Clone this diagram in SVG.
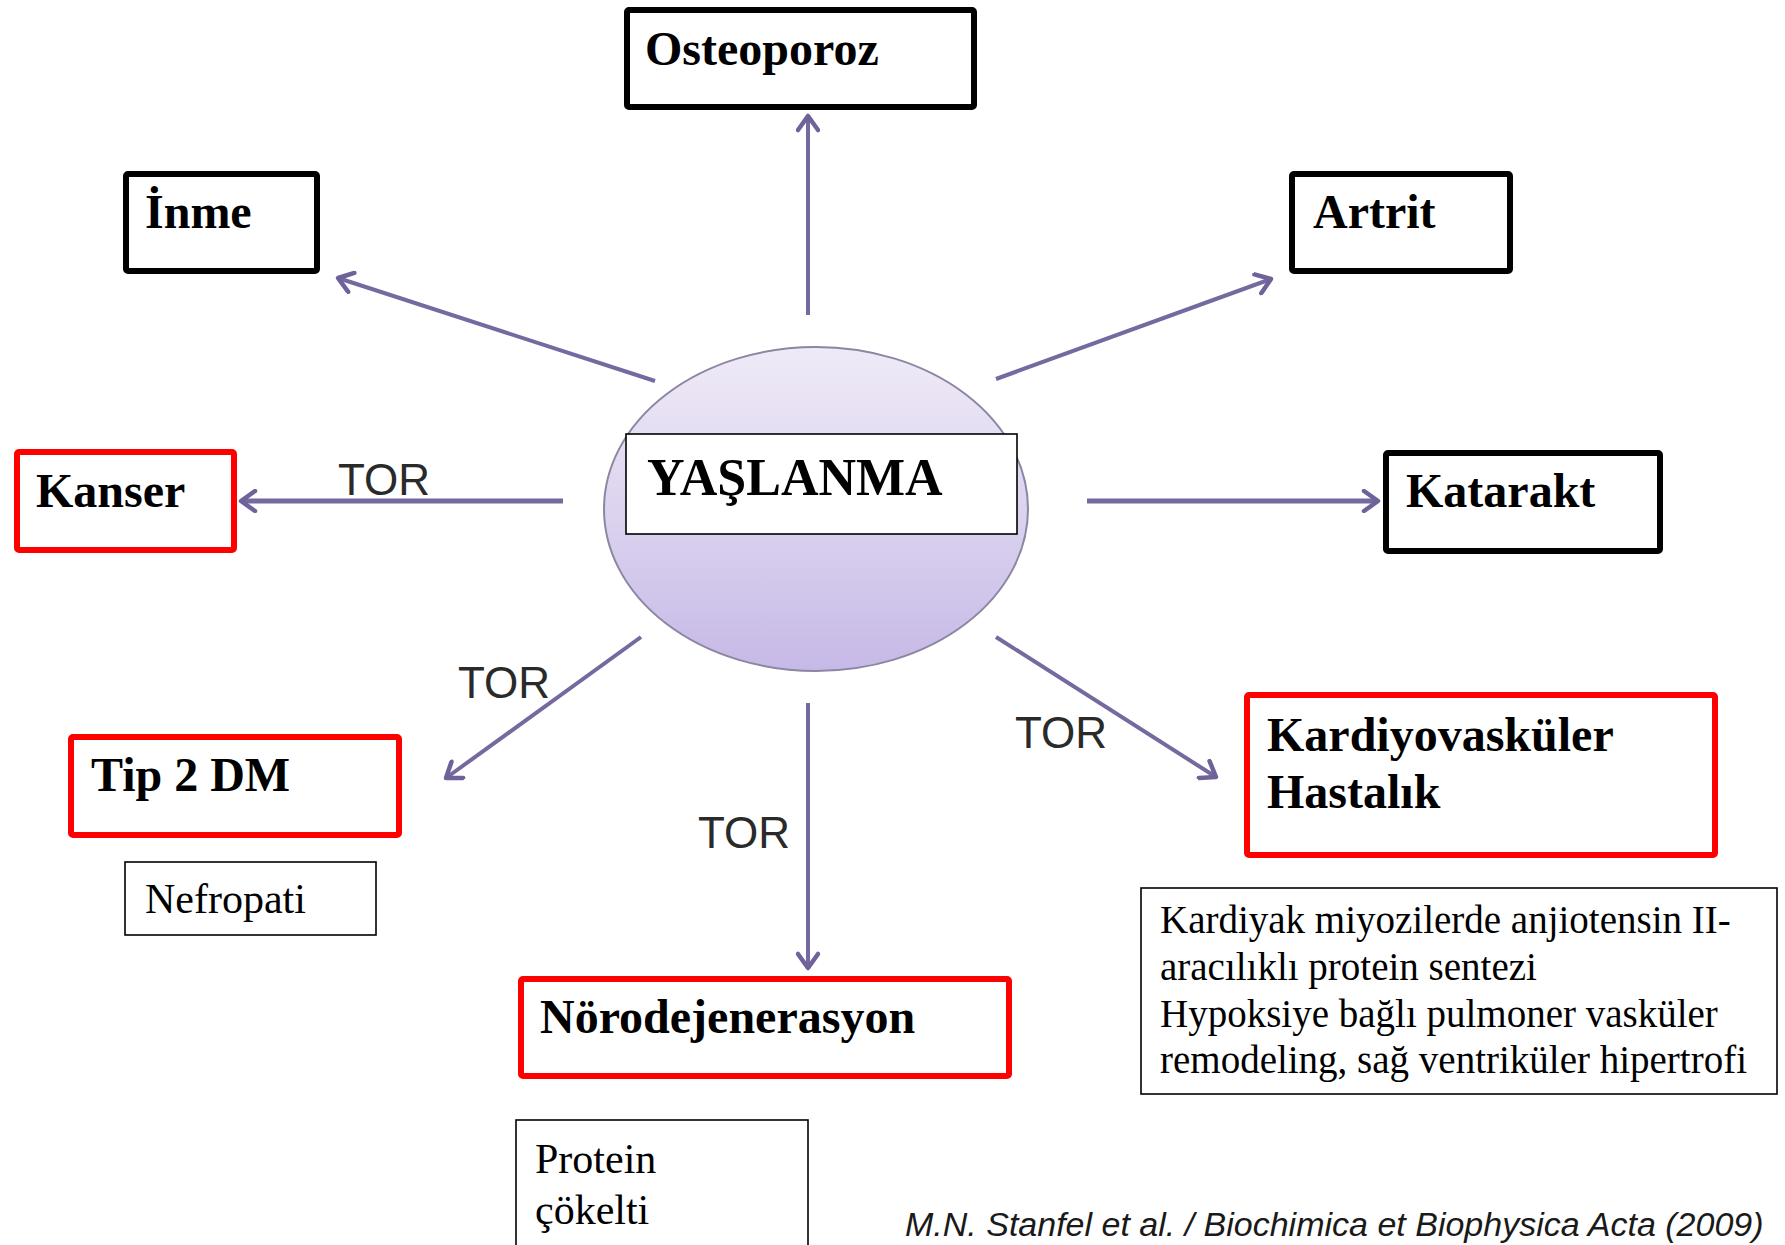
<svg xmlns="http://www.w3.org/2000/svg" width="1785" height="1245" viewBox="0 0 1785 1245">
  <style>
    .box-black { fill: #ffffff; stroke: #000000; stroke-width: 6; }
    .box-red { fill: #ffffff; stroke: #ff0000; stroke-width: 6; }
    .box-thin { fill: #ffffff; stroke: #000000; stroke-width: 1.6; }
    .title { font-family: "Liberation Serif", "Times New Roman", serif; font-weight: bold; font-size: 48px; fill: #000000; }
    .note { font-family: "Liberation Serif", "Times New Roman", serif; font-size: 39px; fill: #000000; }
    .tor { font-family: "Liberation Sans", Arial, sans-serif; font-size: 44px; fill: #2a2a2a; }
    .link { fill: none; stroke: #75699f; stroke-width: 4; marker-end: url(#head); }
    .cite { font-family: "Liberation Sans", Arial, sans-serif; font-style: italic; font-size: 34px; fill: #1a1a1a; }
  </style>
  <defs>
    <linearGradient id="orb" x1="0" y1="0" x2="0" y2="1">
      <stop offset="0" stop-color="#efeaf7"/>
      <stop offset="0.5" stop-color="#dcd4ef"/>
      <stop offset="1" stop-color="#c6b9e6"/>
    </linearGradient>
    <marker id="head" viewBox="-18 -12 22 24" markerWidth="22" markerHeight="24" refX="0" refY="0" orient="auto" markerUnits="userSpaceOnUse">
      <path d="M -14 -10 L 0 0 L -14 10" fill="none" stroke="#6e6299" stroke-width="4.5" stroke-linejoin="round" stroke-linecap="round"/>
    </marker>
  </defs>

  <rect width="1785" height="1245" fill="#ffffff"/>

  <!-- central aging node -->
  <g id="yaslanma">
    <ellipse cx="816" cy="509" rx="212" ry="162" fill="url(#orb)" stroke="#8c86a2" stroke-width="2"/>
    <rect x="626" y="434" width="391" height="100" class="box-thin"/>
    <text x="647" y="495" class="title" style="font-size:52px">YAŞLANMA</text>
  </g>

  <!-- connectors -->
  <g id="connectors">
    <line x1="808" y1="315" x2="808" y2="116" class="link"/>
    <line x1="655" y1="381" x2="338" y2="278" class="link"/>
    <line x1="996" y1="379" x2="1271" y2="279" class="link"/>
    <line x1="563" y1="501" x2="241" y2="501" class="link" style="stroke-width:5"/>
    <line x1="1087" y1="501" x2="1378" y2="501" class="link" style="stroke-width:5"/>
    <line x1="641" y1="637" x2="446" y2="778" class="link"/>
    <line x1="808" y1="703" x2="808" y2="968" class="link"/>
    <line x1="996" y1="637" x2="1216" y2="777" class="link"/>
    <text x="338" y="495" class="tor">TOR</text>
    <text x="458" y="698" class="tor">TOR</text>
    <text x="698" y="848" class="tor">TOR</text>
    <text x="1015" y="748" class="tor">TOR</text>
  </g>

  <g id="osteoporoz">
    <rect x="627" y="10" width="347" height="97" rx="2" class="box-black"/>
    <text x="645" y="65" class="title">Osteoporoz</text>
  </g>

  <g id="inme">
    <rect x="126" y="174" width="191" height="97" rx="2" class="box-black"/>
    <text x="145" y="228" class="title">İnme</text>
  </g>

  <g id="artrit">
    <rect x="1292" y="174" width="218" height="97" rx="2" class="box-black"/>
    <text x="1313" y="228" class="title">Artrit</text>
  </g>

  <g id="kanser">
    <rect x="17" y="452" width="217" height="98" rx="2" class="box-red"/>
    <text x="36" y="507" class="title">Kanser</text>
  </g>

  <g id="katarakt">
    <rect x="1386" y="453" width="274" height="98" rx="2" class="box-black"/>
    <text x="1406" y="507" class="title">Katarakt</text>
  </g>

  <g id="tip2dm">
    <rect x="71" y="737" width="328" height="98" rx="2" class="box-red"/>
    <text x="91" y="791" class="title">Tip 2 DM</text>
  </g>

  <g id="nefropati">
    <rect x="125" y="862" width="251" height="73" class="box-thin"/>
    <text x="145" y="913" class="note" style="font-size:42px">Nefropati</text>
  </g>

  <g id="kardiyovaskuler">
    <rect x="1247" y="695" width="468" height="160" rx="2" class="box-red"/>
    <text x="1267" y="751" class="title">Kardiyovasküler</text>
    <text x="1267" y="808" class="title">Hastalık</text>
  </g>

  <g id="kardiyak-notlar">
    <rect x="1141" y="888" width="636" height="206" class="box-thin"/>
    <text class="note">
      <tspan x="1160" y="933">Kardiyak miyozilerde anjiotensin II-</tspan>
      <tspan x="1160" y="980">aracılıklı protein sentezi</tspan>
      <tspan x="1160" y="1027">Hypoksiye bağlı pulmoner vasküler</tspan>
      <tspan x="1160" y="1073">remodeling, sağ ventriküler hipertrofi</tspan>
    </text>
  </g>

  <g id="norodejenerasyon">
    <rect x="521" y="979" width="488" height="97" rx="2" class="box-red"/>
    <text x="540" y="1033" class="title">Nörodejenerasyon</text>
  </g>

  <g id="protein-cokelti">
    <rect x="516" y="1120" width="292" height="140" class="box-thin"/>
    <text class="note" style="font-size:42px">
      <tspan x="535" y="1173">Protein</tspan>
      <tspan x="535" y="1224">çökelti</tspan>
    </text>
  </g>

  <text x="905" y="1236" class="cite">M.N. Stanfel et al. / Biochimica et Biophysica Acta (2009)</text>
</svg>
